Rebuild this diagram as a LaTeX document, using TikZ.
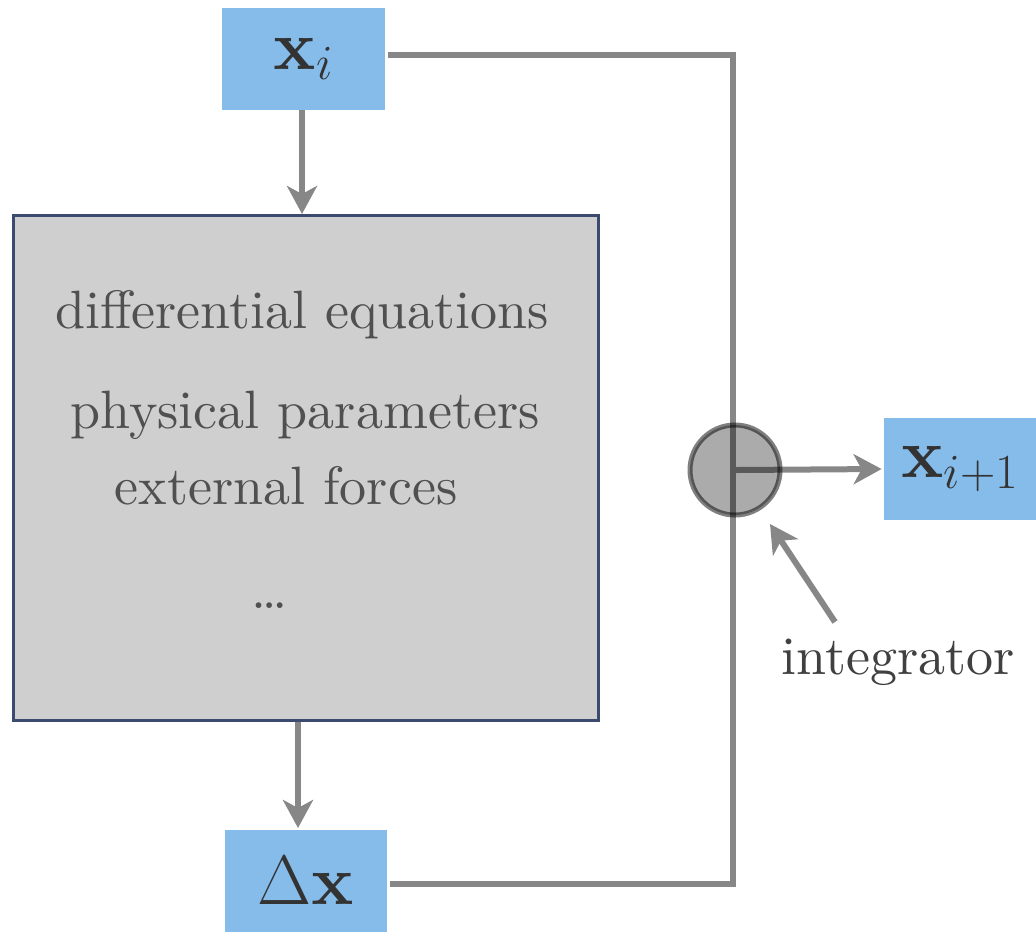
\documentclass[tikz,border=0pt]{standalone}
\usepackage{fix-cm}
\usepackage{fontspec}
\setmainfont{lmroman10}[Extension=.otf, UprightFont=*-regular, ItalicFont=*-italic, BoldFont=*-bold]
\usetikzlibrary{arrows.meta}
\definecolor{StateBlue}{HTML}{85BCEA}
\definecolor{ModelGray}{HTML}{CFCFCF}
\definecolor{ModelEdge}{HTML}{3B4A6E}
\definecolor{TextGray}{HTML}{505050}
\definecolor{FlowGray}{HTML}{878787}
\begin{document}
\begin{tikzpicture}[x=0.5pt, y=-0.5pt, font=\fontsize{27}{31}\selectfont,
    state/.style={fill=StateBlue, minimum height=51pt, inner sep=0pt, font=\fontsize{35}{40}\selectfont, text=black!80},
    flow/.style={line width=3pt, draw=FlowGray},
    arr/.style={flow, -{Stealth[length=14pt, width=15pt, inset=4pt]}}]
  \useasboundingbox (0,0) rectangle (1036,933);
  \node[fill=ModelGray, draw=ModelEdge, line width=1.5pt, minimum width=292.5pt, minimum height=252.5pt] (model) at (306,468) {};
  \node[text=TextGray] (deq) at (302,315) {differential equations};
  \node[text=TextGray] (par) at (305,415) {physical parameters};
  \node[text=TextGray] (frc) at (286,486) {external forces};
  \node[text=TextGray] (dots) at (270,606) {\ldots};
  \node[state, minimum width=81.5pt] (xi) at (303.5,59) {$\mathbf{x}_i$};
  \node[state, minimum width=81pt] (dx) at (306,881) {$\Delta\mathbf{x}$};
  \node[state, minimum width=76pt] (xnext) at (960,469) {$\mathbf{x}_{i+1}$};
  \node[text=black!75] (lbl) at (898,662) {integrator};
  \coordinate (top) at (733,55);
  \coordinate (bot) at (733,884);
  \coordinate (hub) at (735,470);
  \draw[arr] (302,110) -- (model.north -| 302,0);
  \draw[arr] (model.south -| 298,0) -- (298,828);
  \draw[flow] (xi.east |- top) ++(3,0) -- (top) -- (bot) -- ([xshift=1.5pt]dx.east |- bot);
  \draw[arr] (hub) -- ([xshift=-1pt]xnext.west);
  \draw[arr] (835,622) -- (770,524);
  % integrator drawn over the lines, semi-transparent
  \node[circle, minimum size=45pt, inner sep=0pt, fill=black, fill opacity=0.33, draw=black, draw opacity=0.5, line width=2.5pt] (integ) at (hub) {};
\end{tikzpicture}
\end{document}
